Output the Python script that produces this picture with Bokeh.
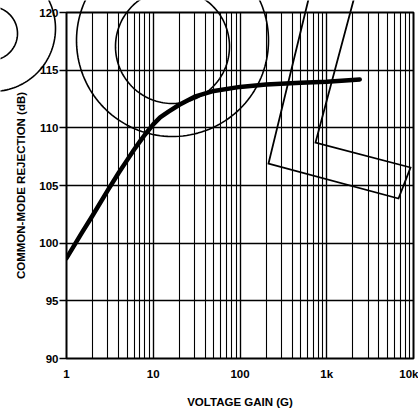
import numpy as np
from bokeh.plotting import figure
from bokeh.models import Range1d, FixedTicker, LogTicker, CustomJSTickFormatter
from bokeh.embed import file_html
from bokeh.resources import INLINE

# data
gain = [1, 1.5, 2, 3, 4, 5, 6, 7, 8, 10, 12, 15, 20, 30, 50, 100, 200, 500, 1000, 2400]
cmr_db = [98.7, 100.9, 102.4, 104.6, 106.1, 107.2, 108.1, 108.8, 109.4, 110.3, 110.9,
          111.4, 112.0, 112.7, 113.2, 113.55, 113.75, 113.9, 114.0, 114.2]
x_ticks = [1, 10, 100, 1000, 10000]
x_tick_labels = ["1", "10", "100", "1k", "10k"]
y_ticks = [90, 95, 100, 105, 110, 115, 120]

FONT = "Liberation Sans"
W, H = 418, 414

p = figure(width=W, height=H, x_axis_type="log",
           x_range=Range1d(1, 10000), y_range=Range1d(90, 120),
           output_backend="svg", toolbar_location=None,
           min_border_left=66, min_border_right=5, min_border_top=12, min_border_bottom=56)
p.background_fill_color = "white"
p.outline_line_color = "black"
p.outline_line_width = 2

labels_js = "{" + ",".join(f"{t}:'{l}'" for t, l in zip(x_ticks, x_tick_labels)) + "}"
p.xaxis.ticker = LogTicker(desired_num_ticks=5, num_minor_ticks=10)
p.xaxis.formatter = CustomJSTickFormatter(code=f"""
const m = {labels_js};
return m[Math.round(tick)] || '';
""")
p.yaxis.ticker = FixedTicker(ticks=y_ticks)
for ax in (p.xaxis, p.yaxis):
    ax.axis_line_color = None
    ax.major_label_text_font = FONT
    ax.major_label_text_font_style = "bold"
    ax.major_label_text_font_size = "11.5px"
    ax.major_label_text_color = "black"
    ax.axis_label_text_font = FONT
    ax.axis_label_text_font_style = "bold"
    ax.axis_label_text_font_size = "11.5px"
    ax.axis_label_text_color = "black"
    ax.minor_tick_line_color = None
p.xaxis.major_tick_line_color = None
p.xaxis.major_label_standoff = 3
p.xaxis.axis_label = "VOLTAGE GAIN (G)"
p.xaxis.axis_label_standoff = 13
p.yaxis.major_tick_line_color = "black"
p.yaxis.major_tick_line_width = 1.5
p.yaxis.major_tick_out = 7
p.yaxis.major_tick_in = 0
p.yaxis.major_label_standoff = 1
p.yaxis.axis_label = "COMMON-MODE REJECTION (dB)"
p.yaxis.axis_label_standoff = 9

p.xgrid.ticker = LogTicker(desired_num_ticks=5, num_minor_ticks=10)
p.xgrid.grid_line_color = "black"
p.xgrid.grid_line_width = 1.3
p.xgrid.grid_line_alpha = 1
p.xgrid.minor_grid_line_color = "black"
p.xgrid.minor_grid_line_width = 1.1
p.ygrid.ticker = FixedTicker(ticks=y_ticks)
p.ygrid.grid_line_color = "black"
p.ygrid.grid_line_width = 1.5
p.ygrid.grid_line_alpha = 1

p.line(gain, cmr_db, line_color="black", line_width=4.5, line_join="round", line_cap="round")

# transparent overlay (separate root) for the hand-drawn sketch marks, page pixel geometry
ov = figure(width=W, height=H, x_range=Range1d(0, W), y_range=Range1d(H, 0),
            output_backend="svg", toolbar_location=None,
            min_border_left=0, min_border_right=0, min_border_top=0, min_border_bottom=0)
ov.axis.visible = False
ov.grid.visible = False
ov.outline_line_color = None
ov.background_fill_alpha = 0
ov.border_fill_alpha = 0
ov.styles = {"position": "absolute", "left": "0px", "top": "0px", "pointer-events": "none"}

circles = [(-10, 33, 27), (-8, 28, 63), (172, 40, 96), (172, 46, 57)]
t = np.linspace(0, 2 * np.pi, 160)
for cx, cy, r in circles:
    ov.line(list(cx + r * np.cos(t)), list(cy + r * np.sin(t)), line_color="black", line_width=1.6)
poly_x = [315, 268, 398, 410, 315, 361]
poly_y = [-30, 163, 198, 167, 142, -30]
ov.line(poly_x, poly_y, line_color="black", line_width=1.8, line_join="miter")

open("out.html", "w").write(file_html([p, ov], INLINE))
